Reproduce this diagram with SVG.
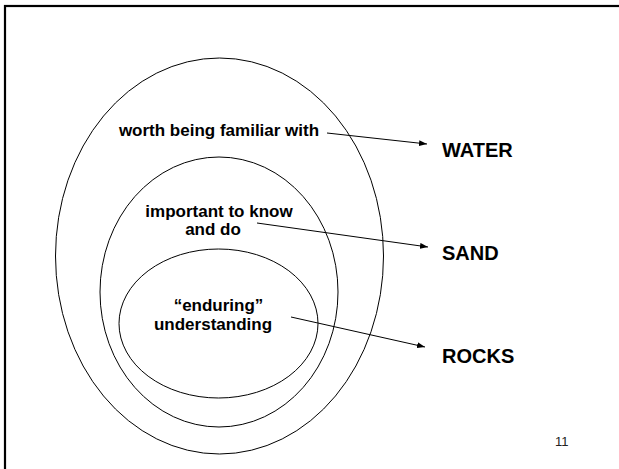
<svg xmlns="http://www.w3.org/2000/svg" width="619" height="469" viewBox="0 0 619 469">
<style>
.ring{fill:none;stroke:#000;stroke-width:1}
.lbl{font-family:"Liberation Sans",Arial,sans-serif;font-weight:bold;font-size:17px;fill:#000;text-anchor:middle}
.big{font-family:"Liberation Sans",Arial,sans-serif;font-weight:bold;font-size:20px;fill:#000}
.con{stroke:#000;stroke-width:1;fill:none;marker-end:url(#ah)}
</style>
<defs>
<marker id="ah" viewBox="0 0 8 6" refX="8" refY="3" markerWidth="8" markerHeight="6" markerUnits="userSpaceOnUse" orient="auto">
<path d="M0,0 L8,3 L0,6 Z" fill="#000"/>
</marker>
</defs>
<rect x="0" y="0" width="619" height="469" fill="#fff"/>
<rect x="5" y="6" width="640" height="490" fill="none" stroke="#000" stroke-width="2.2"/>
<g id="outer">
<ellipse class="ring" cx="219.5" cy="256" rx="164" ry="198"/>
<text class="lbl" x="219" y="136">worth being familiar with</text>
</g>
<g id="middle">
<ellipse class="ring" cx="219" cy="292" rx="119" ry="135"/>
<text class="lbl" x="219" y="216.5">important to know</text>
<text class="lbl" x="213" y="235">and do</text>
</g>
<g id="inner">
<ellipse class="ring" cx="218.5" cy="323.5" rx="99.5" ry="74.5"/>
<text class="lbl" x="218.5" y="311">“enduring”</text>
<text class="lbl" x="213" y="329.5">understanding</text>
</g>
<g id="water"><text class="big" x="442" y="157">WATER</text></g>
<g id="sand"><text class="big" x="442" y="260">SAND</text></g>
<g id="rocks"><text class="big" x="442" y="363">ROCKS</text></g>
<g id="connectors">
<line class="con" x1="327" y1="133" x2="427" y2="144"/>
<line class="con" x1="257" y1="223" x2="428" y2="247"/>
<line class="con" x1="291" y1="317" x2="425" y2="347"/>
</g>
<text x="555" y="446" font-family="Liberation Sans,Arial,sans-serif" font-size="13" fill="#222">11</text>
</svg>
